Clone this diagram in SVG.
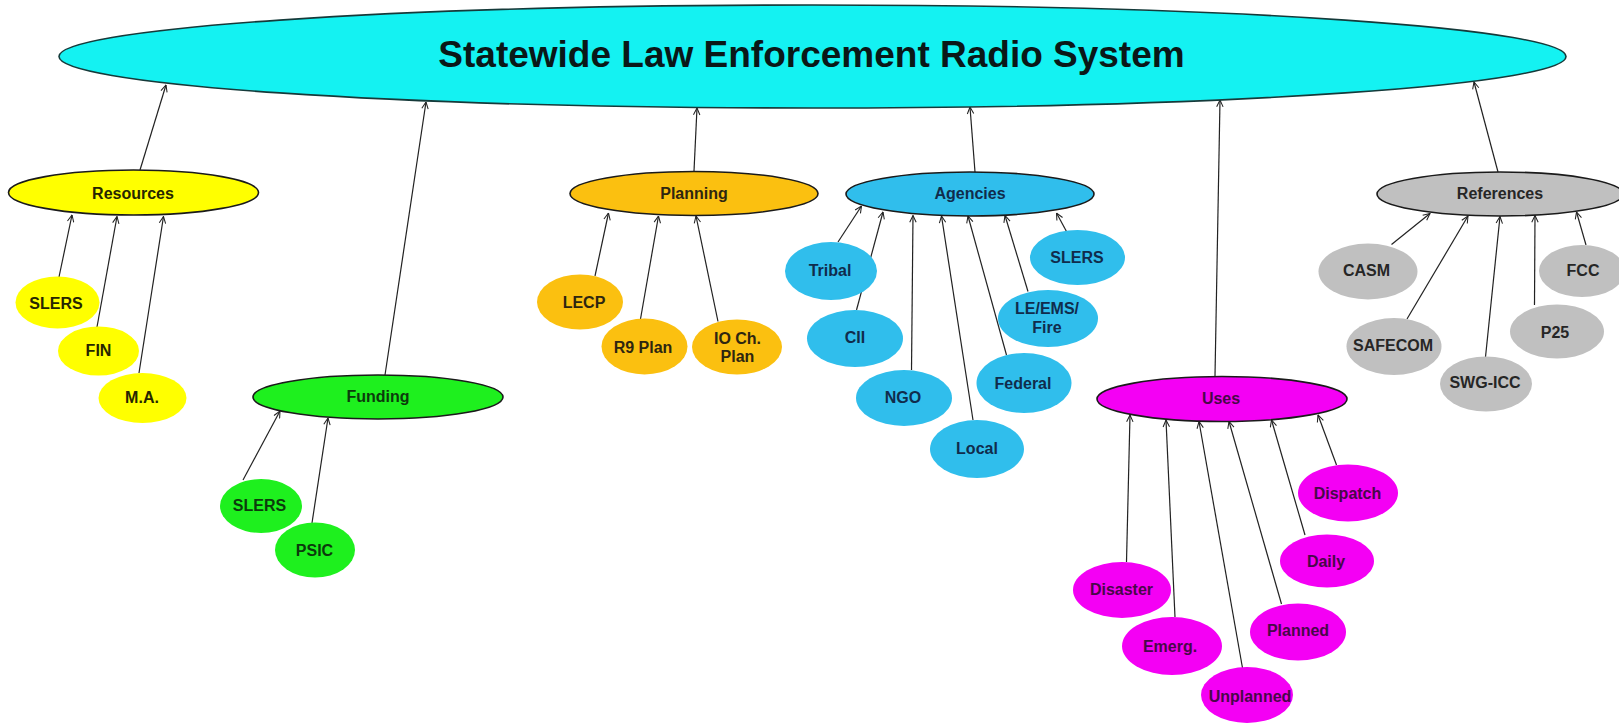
<svg xmlns="http://www.w3.org/2000/svg" width="1619" height="723" viewBox="0 0 1619 723">
<defs>
<marker id="arr" viewBox="0 0 10 10" refX="9.5" refY="5" markerWidth="8" markerHeight="8" orient="auto" markerUnits="userSpaceOnUse">
<path d="M1,1 L9.5,5 L1,9" fill="none" stroke="#222" stroke-width="1.3"/>
</marker>
<style>
.edge{stroke:#222;stroke-width:1.2;fill:none;marker-end:url(#arr)}
.par{stroke:#1a1a1a;stroke-width:1.6}
.lbl{font-family:"Liberation Sans",Arial,sans-serif;font-weight:bold;font-size:16px;text-anchor:middle}
.title{font-family:"Liberation Sans",Arial,sans-serif;font-weight:bold;font-size:37px;text-anchor:middle;fill:#0a1818}
.y{fill:#FFFF00}.yt{fill:#262600}
.g{fill:#1EF01E}.gt{fill:#0c3a0c}
.o{fill:#FBC010}.ot{fill:#2e2610}
.b{fill:#30BEEC}.bt{fill:#102c4c}
.m{fill:#F400F4}.mt{fill:#480848}
.s{fill:#C0C0C0}.st{fill:#262626}
</style>
</defs>
<rect width="1619" height="723" fill="#FFFFFF"/>

<g id="connectors">
<line class="edge" x1="140" y1="170" x2="166" y2="85"/>
<line class="edge" x1="385" y1="375" x2="426" y2="102"/>
<line class="edge" x1="694" y1="171" x2="697" y2="108"/>
<line class="edge" x1="975" y1="172" x2="970" y2="107"/>
<line class="edge" x1="1215" y1="376" x2="1220" y2="100"/>
<line class="edge" x1="1498" y1="172" x2="1474" y2="82"/>

<line class="edge" x1="59" y1="277" x2="72" y2="215"/>
<line class="edge" x1="97" y1="327" x2="117" y2="216.5"/>
<line class="edge" x1="139" y1="373" x2="163.5" y2="216.5"/>

<line class="edge" x1="243" y1="480" x2="280" y2="411"/>
<line class="edge" x1="312" y1="523" x2="328" y2="418"/>

<line class="edge" x1="595" y1="276" x2="608.5" y2="213"/>
<line class="edge" x1="640.5" y1="319" x2="658.5" y2="216"/>
<line class="edge" x1="718" y1="321.5" x2="696" y2="216"/>

<line class="edge" x1="838" y1="242" x2="861.5" y2="206"/>
<line class="edge" x1="856.5" y1="310" x2="883" y2="212"/>
<line class="edge" x1="911.5" y1="370" x2="913" y2="215.5"/>
<line class="edge" x1="973" y1="420" x2="941.5" y2="216"/>
<line class="edge" x1="1006.5" y1="355" x2="968" y2="216"/>
<line class="edge" x1="1028" y1="291.5" x2="1005" y2="215.5"/>
<line class="edge" x1="1066.5" y1="231.5" x2="1056.5" y2="213"/>

<line class="edge" x1="1126.5" y1="562" x2="1130" y2="415"/>
<line class="edge" x1="1175" y1="617" x2="1166" y2="420"/>
<line class="edge" x1="1242.5" y1="668" x2="1199" y2="421.5"/>
<line class="edge" x1="1281.5" y1="604" x2="1229" y2="421.5"/>
<line class="edge" x1="1305" y1="535" x2="1271.5" y2="420"/>
<line class="edge" x1="1336.5" y1="465" x2="1318" y2="415"/>

<line class="edge" x1="1391.5" y1="244.5" x2="1430" y2="213.5"/>
<line class="edge" x1="1407" y1="319" x2="1468" y2="216"/>
<line class="edge" x1="1485.5" y1="357" x2="1500" y2="216.5"/>
<line class="edge" x1="1534.5" y1="305" x2="1535" y2="215.5"/>
<line class="edge" x1="1586" y1="245" x2="1576.5" y2="212"/>
</g>

<g id="main">
<ellipse cx="812.5" cy="56.5" rx="753.5" ry="51.5" fill="#14F2F2" stroke="#153a3a" stroke-width="1.6"/>
<text class="title" x="811.5" y="66.5">Statewide Law Enforcement Radio System</text>
</g>

<g id="resources">
<ellipse class="y par" cx="133.5" cy="192.5" rx="125" ry="22.5"/>
<text class="lbl yt" x="133" y="198.5">Resources</text>
</g>
<g id="res-slers"><ellipse class="y" cx="57.5" cy="302.5" rx="42" ry="26"/><text class="lbl yt" x="56" y="308.5">SLERS</text></g>
<g id="res-fin"><ellipse class="y" cx="98.5" cy="351" rx="40.5" ry="24.5"/><text class="lbl yt" x="98.5" y="356">FIN</text></g>
<g id="res-ma"><ellipse class="y" cx="142.5" cy="398" rx="44" ry="25"/><text class="lbl yt" x="142" y="402.5">M.A.</text></g>

<g id="funding">
<ellipse class="g par" cx="378" cy="397" rx="125" ry="22"/>
<text class="lbl gt" x="378" y="402">Funding</text>
</g>
<g id="fund-slers"><ellipse class="g" cx="261" cy="506" rx="41" ry="27"/><text class="lbl gt" x="259.5" y="511">SLERS</text></g>
<g id="fund-psic"><ellipse class="g" cx="315" cy="550" rx="40" ry="27.5"/><text class="lbl gt" x="314.5" y="556">PSIC</text></g>

<g id="planning">
<ellipse class="o par" cx="694" cy="193.5" rx="124" ry="22"/>
<text class="lbl ot" x="694" y="198.5">Planning</text>
</g>
<g id="plan-lecp"><ellipse class="o" cx="580" cy="302" rx="43" ry="27.5"/><text class="lbl ot" x="584" y="307.5">LECP</text></g>
<g id="plan-r9"><ellipse class="o" cx="644.5" cy="346.5" rx="43" ry="28"/><text class="lbl ot" x="643" y="352.5">R9 Plan</text></g>
<g id="plan-io"><ellipse class="o" cx="737" cy="347" rx="45" ry="27.5"/><text class="lbl ot" x="737.5" y="344">IO Ch.</text><text class="lbl ot" x="737.5" y="362">Plan</text></g>

<g id="agencies">
<ellipse class="b par" cx="970" cy="194" rx="124" ry="22"/>
<text class="lbl bt" x="970" y="198.5">Agencies</text>
</g>
<g id="ag-tribal"><ellipse class="b" cx="831" cy="271" rx="46" ry="29"/><text class="lbl bt" x="830" y="276">Tribal</text></g>
<g id="ag-cii"><ellipse class="b" cx="855" cy="338.5" rx="48" ry="28.5"/><text class="lbl bt" x="855" y="342.5">CII</text></g>
<g id="ag-ngo"><ellipse class="b" cx="904" cy="398" rx="48" ry="28"/><text class="lbl bt" x="903" y="402.5">NGO</text></g>
<g id="ag-local"><ellipse class="b" cx="977" cy="449" rx="47" ry="29"/><text class="lbl bt" x="977" y="454">Local</text></g>
<g id="ag-federal"><ellipse class="b" cx="1024" cy="383" rx="47.5" ry="30"/><text class="lbl bt" x="1023" y="388.5">Federal</text></g>
<g id="ag-leems"><ellipse class="b" cx="1048" cy="318.5" rx="50" ry="28.5"/><text class="lbl bt" x="1047" y="314">LE/EMS/</text><text class="lbl bt" x="1047" y="332.5">Fire</text></g>
<g id="ag-slers"><ellipse class="b" cx="1077.5" cy="257.5" rx="47.5" ry="27.5"/><text class="lbl bt" x="1077" y="262.5">SLERS</text></g>

<g id="uses">
<ellipse class="m par" cx="1222" cy="399" rx="125" ry="22.5"/>
<text class="lbl mt" x="1221" y="404">Uses</text>
</g>
<g id="use-dispatch"><ellipse class="m" cx="1348" cy="493" rx="50" ry="28.5"/><text class="lbl mt" x="1347.5" y="498.5">Dispatch</text></g>
<g id="use-daily"><ellipse class="m" cx="1327" cy="561" rx="47" ry="26.5"/><text class="lbl mt" x="1326" y="566.5">Daily</text></g>
<g id="use-planned"><ellipse class="m" cx="1298" cy="632" rx="48" ry="28.5"/><text class="lbl mt" x="1298" y="636">Planned</text></g>
<g id="use-unplanned"><ellipse class="m" cx="1247" cy="695" rx="46" ry="28"/><text class="lbl mt" x="1250" y="702">Unplanned</text></g>
<g id="use-emerg"><ellipse class="m" cx="1172" cy="646" rx="50" ry="29"/><text class="lbl mt" x="1170" y="652">Emerg.</text></g>
<g id="use-disaster"><ellipse class="m" cx="1122" cy="590" rx="49" ry="28"/><text class="lbl mt" x="1121.5" y="595">Disaster</text></g>

<g id="references">
<ellipse class="s par" cx="1500" cy="194" rx="123" ry="22"/>
<text class="lbl st" x="1500" y="198.5">References</text>
</g>
<g id="ref-casm"><ellipse class="s" cx="1368" cy="271.5" rx="49.5" ry="28"/><text class="lbl st" x="1366.5" y="276">CASM</text></g>
<g id="ref-fcc"><ellipse class="s" cx="1582" cy="271" rx="43" ry="26"/><text class="lbl st" x="1583" y="276">FCC</text></g>
<g id="ref-safecom"><ellipse class="s" cx="1394" cy="346.5" rx="47.5" ry="28.5"/><text class="lbl st" x="1393" y="351">SAFECOM</text></g>
<g id="ref-p25"><ellipse class="s" cx="1557" cy="331.5" rx="47" ry="27"/><text class="lbl st" x="1555" y="337.5">P25</text></g>
<g id="ref-swgicc"><ellipse class="s" cx="1486" cy="384" rx="46" ry="27.5"/><text class="lbl st" x="1485" y="387.5">SWG-ICC</text></g>
</svg>
